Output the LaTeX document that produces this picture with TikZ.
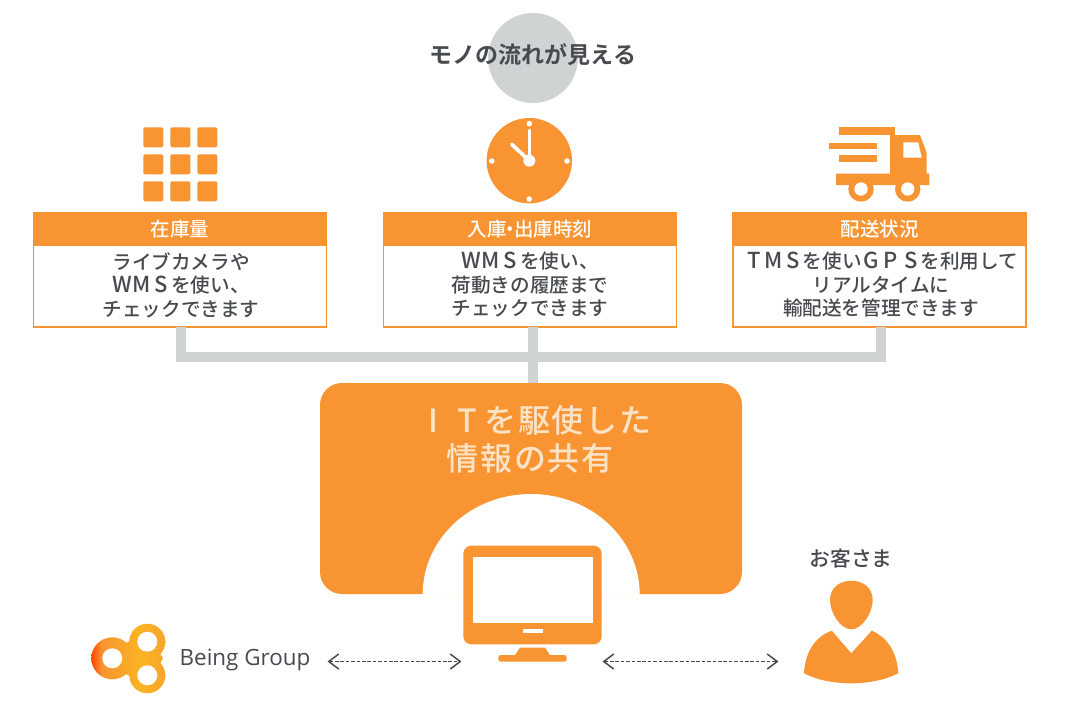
\documentclass[tikz,border=0pt]{standalone}
\usepackage{fontspec}
\usetikzlibrary{arrows.meta}
\setmainfont{Noto Sans CJK JP}
\newfontfamily\medjp{Noto Sans CJK JP Medium}
\newfontfamily\boldjp{Noto Sans CJK JP Bold}
\newfontfamily\bigjp[LetterSpace=6]{Noto Sans CJK JP Medium}
\newfontfamily\latn{Open Sans}
\definecolor{org}{HTML}{F89432}
\definecolor{bargray}{HTML}{D0D3D4}
\definecolor{ink}{HTML}{474B50}
\definecolor{softtxt}{HTML}{FDE3C6}
\newcommand\wl[1]{\makebox[19.6pt]{\fontsize{22}{23.5}\selectfont #1}}
\newcommand\bl[1]{\makebox[33.5pt]{#1}}
\pgfdeclarehorizontalshading{logoshade}{100bp}{color(0bp)=(orange!70!red); color(25bp)=(orange!55!red); color(32bp)=(org); color(58bp)=(yellow!30!org); color(75bp)=(org!85!yellow); color(100bp)=(org!85!yellow)}
\tikzset{
  orgfill/.style={fill=org,draw=none},
  boxhead/.style={fill=org,text=white,minimum width=294pt,minimum height=33pt,inner sep=0pt,font=\medjp\fontsize{19.5}{22}\selectfont},
  boxbody/.style={draw=org,line width=1.5pt,fill=white,minimum width=293pt,minimum height=114pt,inner sep=0pt},
  boxtext/.style={align=center,text=ink,inner sep=0pt,font=\medjp\fontsize{19.6}{23.5}\selectfont},
  bigline/.style={text=softtxt,inner sep=0pt,font=\bigjp\fontsize{32}{36}\selectfont},
  bus/.style={draw=bargray,line width=10pt},
  twoway/.style={draw=ink,line width=1.8pt,dash pattern=on 3.6pt off 1.8pt,{Straight Barb[length=10pt,width=15pt,line width=1.5pt]}-{Straight Barb[length=10pt,width=15pt,line width=1.5pt]}},
  gridcell/.style={orgfill,rounded corners=1.5pt},
  clockdot/.style={fill=white,draw=none},
  clockhand/.style={draw=white,line cap=round}
}
\begin{document}
\begin{tikzpicture}[x=1pt,y=-1pt]
\useasboundingbox (0,0) rectangle (1091,712);
% title
\fill[bargray] (533,58) circle (45);
\node[text=ink,inner sep=0pt,font=\boldjp\fontsize{23}{26}\selectfont] (title) at (533,55) {モノの流れが見える};
% boxes
\node[boxbody] (a) at (180,270) {};
\node[boxbody] (b) at (530,270) {};
\node[boxbody] (c) at (879.5,270) {};
\node[boxhead] (ah) at (180,229.5) {在庫量};
\node[boxhead] (bh) at (530,229.5) {入庫\kern-6pt・\kern-6pt出庫時刻};
\node[boxhead] (ch) at (879.5,229.5) {配送状況};
\node[boxtext] (at) at (181,285) {ライブカメラや\\\wl{W}\wl{M}\wl{S}を使い、\\チェックできます};
\node[boxtext] (bt) at (530,285) {\wl{W}\wl{M}\wl{S}を使い、\\荷動きの履歴まで\\チェックできます};
\node[boxtext] (ct) at (881,285) {\wl{T}\wl{M}\wl{S}を使い\wl{G}\wl{P}\wl{S}を利用して\\リアルタイムに\\輸配送を管理できます};
% central block
\node[fill=org,rounded corners=22pt,minimum width=422pt,minimum height=211pt,inner sep=0pt] (it) at (531,488.5) {};
\fill[white] (422.7,594.5) .. controls (422.7,538.8) and (470.7,494) .. (531,494) .. controls (591.3,494) and (639.7,538.8) .. (639.7,594.5) -- cycle;
\node[bigline] (itone) at (534.5,420.5) {\bl{I}\bl{T}を駆使した};
\node[bigline] (ittwo) at (530,458.5) {情報の共有};
% bus connectors
\coordinate (hub) at (533,357);
\coordinate (aout) at (181,327);
\coordinate (cout) at (881,327);
\coordinate (bout) at (533,327);
\coordinate (itin) at (533,383);
\draw[bus] (aout) |- (hub);
\draw[bus] (cout) |- (hub);
\draw[bus] (bout) -- (itin);
% grid icon
\foreach \x in {143.3,170.3,197.3}
  \foreach \y in {127.3,154.3,181.3}
    \fill[gridcell] (\x,\y) rectangle ++(20,20);
% clock icon
\fill[org] (529.3,160.7) circle (42.7);
\foreach \p in {(529.3,123.7),(529.3,199),(491.7,161),(567,161)}
  \fill[clockdot] \p circle (2.8);
\fill[clockdot] (529.3,160.7) circle (6);
\draw[clockhand,line width=2.8pt] (529.3,160.7) -- (529.3,130);
\draw[clockhand,line width=3.8pt] (529.3,160.7) -- (511.7,144.3);
% truck icon
\fill[org] (838.7,126.7) rectangle (894.7,135);
\fill[org] (829,142.7) rectangle (877.3,149);
\fill[org] (838.7,155) rectangle (877.3,162);
\fill[org] (890,135) -- (920,135) -- (926.7,153) -- (926.7,173.5) -- (929.3,173.5) -- (929.3,185) -- (836,185) -- (836,173.5) -- (890,173.5) -- cycle;
\fill[white] (903.3,142.3) -- (918.3,142.3) -- (921.7,157.7) -- (903.3,157.7) -- cycle;
\fill[org] (861,189) circle (12.7);
\fill[org] (907.7,189) circle (12.7);
\fill[white] (861,189) circle (6.7);
\fill[white] (907.7,189) circle (6.7);
% monitor icon
\fill[org,rounded corners=8pt] (463.3,545.7) rectangle (601.7,644.3);
\fill[white] (472.7,556.7) rectangle (592.7,623.3);
\fill[white] (522.7,628.7) rectangle (542.7,633);
\fill[org] (520,647.7) -- (545,647.7) -- (550,655) -- (515,655) -- cycle;
\fill[org,rounded corners=2.5pt] (498.3,655) rectangle (566.7,661.7);
\node[inner sep=0pt,minimum width=138pt,minimum height=116pt] (monitor) at (532.5,603.7) {};
% logo
\shade[shading=logoshade]
  (112.3,658.3) circle (21) (147.3,641.7) circle (18) (147.3,675.3) circle (18)
  (112.3,650) -- (147.3,632) -- (163,658.5) -- (147.3,685) -- (112.3,667) -- cycle;
\fill[white] (112.3,658.3) circle (10);
\fill[white] (147.3,641.7) circle (10);
\fill[white] (147.3,675.3) circle (10);
\node[inner sep=0pt,anchor=west,text=ink,font=\latn\fontsize{22.4}{26}\selectfont] (being) at (179.5,659.5) {Being Group};
% customer
\node[text=ink,inner sep=0pt,font=\medjp\fontsize{20.8}{24}\selectfont] (cust) at (851,559) {お客さま};
\fill[org] (851.3,580.7) .. controls (862,580.7) and (872.7,587) .. (872.7,600) .. controls (872.7,613) and (862,629.3) .. (851.3,629.3) .. controls (840.6,629.3) and (830,613) .. (830,600) .. controls (830,587) and (840.6,580.7) .. (851.3,580.7) -- cycle;
\fill[org] (831.7,630.7) -- (851.3,653.3) -- (871.7,630.7) .. controls (885,636) and (897,650) .. (898.3,673.3) .. controls (885,680) and (868,683.3) .. (851.3,683.3) .. controls (834,683.3) and (817,680) .. (804,673.3) .. controls (805,650) and (817,636) .. (831.7,630.7) -- cycle;
\node[inner sep=0pt,minimum width=95pt,minimum height=103pt] (person) at (851,632) {};
% arrows
\coordinate (la) at (327.5,661.5);
\coordinate (lb) at (461.5,661.5);
\coordinate (ra) at (602.5,661.5);
\coordinate (rb) at (778.5,661.5);
\draw[twoway] (la) -- (lb);
\draw[twoway] (ra) -- (rb);
\end{tikzpicture}
\end{document}
